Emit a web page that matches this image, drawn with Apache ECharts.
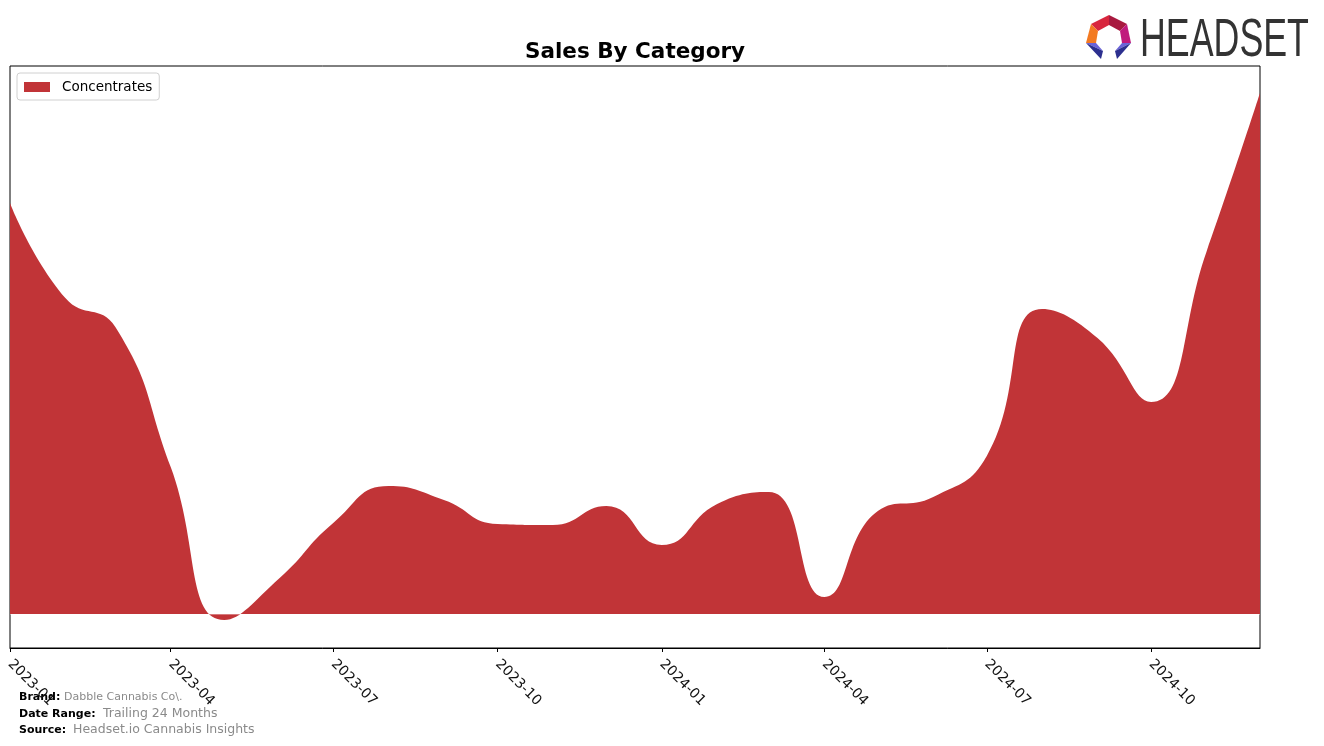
<!DOCTYPE html>
<html>
<head>
<meta charset="utf-8">
<script src="https://cdn.jsdelivr.net/npm/echarts@6/dist/echarts.min.js"></script>
<style>
  html, body { margin: 0; padding: 0; background: #fff; }
  #chart { width: 1324px; height: 746px; }
</style>
</head>
<body>
<div id="chart"></div>
<script>
// ---- data (relative units, no y labels shown) ----
const months = [
  '2023-01-01','2023-02-01','2023-03-01','2023-04-01','2023-05-01','2023-06-01',
  '2023-07-01','2023-08-01','2023-09-01','2023-10-01','2023-11-01','2023-12-01',
  '2024-01-01','2024-02-01','2024-03-01','2024-04-01','2024-05-01','2024-06-01',
  '2024-07-01','2024-08-01','2024-09-01','2024-10-01','2024-11-01','2024-12-01'
];
const concentrates = [
  411, 316, 287, 147, -6, 36,
  91, 128, 114, 90, 89, 108,
  69, 110, 122, 17, 103, 117,
  158, 305, 276, 212, 362, 521
];
const tickDates = ['2023-01-01','2023-04-01','2023-07-01','2023-10-01','2024-01-01','2024-04-01','2024-07-01','2024-10-01'];
const seriesName = 'Concentrates';
const titleText = 'Sales By Category';
const footer = [
  ['Brand:', 'Dabble Cannabis Co\\.'],
  ['Date Range:', 'Trailing 24 Months'],
  ['Source:', 'Headset.io Cannabis Insights']
];

function ts(s) { const p = s.split('-').map(Number); return Date.UTC(p[0], p[1] - 1, p[2]); }
function fmt(v) { const d = new Date(v); const m = d.getUTCMonth() + 1; return d.getUTCFullYear() + '-' + (m < 10 ? '0' + m : m); }

const seriesData = months.map((m, i) => [ts(m), concentrates[i]]);
const tickValues = tickDates.map(ts);

const chart = echarts.init(document.getElementById('chart'), null, { renderer: 'canvas' });
const FONT = 'DejaVu Sans';
const RED = '#C13437';

const option = {
  animation: false,
  backgroundColor: '#ffffff',
  title: {
    text: titleText,
    left: 635,
    top: 41,
    textAlign: 'center',
    padding: 0,
    textStyle: { fontFamily: FONT, fontSize: 21.5, fontWeight: 'bold', color: '#000' }
  },
  legend: {
    left: 17, top: 73,
    padding: [7, 7, 6, 7],
    itemWidth: 26, itemHeight: 10, itemGap: 10,
    borderColor: '#d0d0d0', borderWidth: 1, borderRadius: 3,
    backgroundColor: 'rgba(255,255,255,0.8)',
    icon: 'rect',
    textStyle: { fontFamily: FONT, fontSize: 13.5, color: '#000', padding: [0, 0, 0, 7] },
    data: [seriesName]
  },
  grid: {
    left: 10, right: 64, top: 66, bottom: 98,
    show: true, borderColor: '#000', borderWidth: 1, backgroundColor: 'transparent',
    containLabel: false
  },
  xAxis: {
    type: 'value',
    min: ts(months[0]),
    max: ts(months[months.length - 1]),
    axisLine: { show: true, onZero: false, lineStyle: { color: '#000', width: 1 } },
    axisTick: { show: true, length: 4, lineStyle: { color: '#000' }, customValues: tickValues },
    axisLabel: {
      customValues: tickValues,
      rotate: -45,
      margin: 14,
      formatter: fmt,
      fontFamily: FONT, fontSize: 14, color: '#111',
      hideOverlap: false,
      showMinLabel: true, showMaxLabel: true
    },
    splitLine: { show: false }
  },
  yAxis: {
    type: 'value',
    min: -34, max: 548,
    axisLine: { show: false },
    axisTick: { show: false },
    axisLabel: { show: false },
    splitLine: { show: false }
  },
  series: [{
    name: seriesName,
    type: 'line',
    data: seriesData,
    smooth: 0.5,
    symbol: 'none',
    color: RED,
    lineStyle: { width: 0, color: RED },
    areaStyle: { color: RED, opacity: 1, origin: 0 },
    markLine: {
      silent: true, symbol: 'none', animation: false,
      label: { show: false },
      lineStyle: { color: 'rgba(255,255,255,0.35)', width: 1, type: 'solid' },
      data: [{ yAxis: 0 }]
    }
  }],
  graphic: [
    // footer
    { type: 'text', left: 19, top: 692, style: { text: footer[0][0], fontFamily: FONT, fontSize: 11, fontWeight: 'bold', fill: '#000' } },
    { type: 'text', left: 64, top: 692, style: { text: footer[0][1], fontFamily: FONT, fontSize: 11, fill: '#8a8a8a' } },
    { type: 'text', left: 19, top: 709, style: { text: footer[1][0], fontFamily: FONT, fontSize: 11, fontWeight: 'bold', fill: '#000' } },
    { type: 'text', left: 103, top: 707, style: { text: footer[1][1], fontFamily: FONT, fontSize: 12.5, fill: '#8a8a8a' } },
    { type: 'text', left: 19, top: 725, style: { text: footer[2][0], fontFamily: FONT, fontSize: 11, fontWeight: 'bold', fill: '#000' } },
    { type: 'text', left: 73, top: 723, style: { text: footer[2][1], fontFamily: FONT, fontSize: 12.5, fill: '#8a8a8a' } },
    // logo icon
    { type: 'polygon', shape: { points: [[1091,24],[1109,15],[1109,25],[1098,31]] }, style: { fill: '#d8263e' } },
    { type: 'polygon', shape: { points: [[1109,15],[1127,24],[1120,31],[1109,25]] }, style: { fill: '#a8193f' } },
    { type: 'polygon', shape: { points: [[1086,43],[1091,24],[1098,31],[1096,43]] }, style: { fill: '#f37a22' } },
    { type: 'polygon', shape: { points: [[1131,43],[1127,24],[1120,31],[1122,43]] }, style: { fill: '#c01a7d' } },
    { type: 'polygon', shape: { points: [[1086,43],[1096,43],[1103,51]] }, style: { fill: '#6a63d8' } },
    { type: 'polygon', shape: { points: [[1086,43],[1103,51],[1101,59]] }, style: { fill: '#2c2f8f' } },
    { type: 'polygon', shape: { points: [[1131,43],[1122,43],[1115,51]] }, style: { fill: '#6a63d8' } },
    { type: 'polygon', shape: { points: [[1131,43],[1115,51],[1117,59]] }, style: { fill: '#2c2f8f' } },
    // logo text
    { type: 'text', x: 1140, y: 15, scaleX: 0.675, style: { text: 'HEADSET', fontFamily: 'Liberation Sans', fontSize: 53, fill: '#333333' } }
  ]
};
chart.setOption(option);
</script>
</body>
</html>
